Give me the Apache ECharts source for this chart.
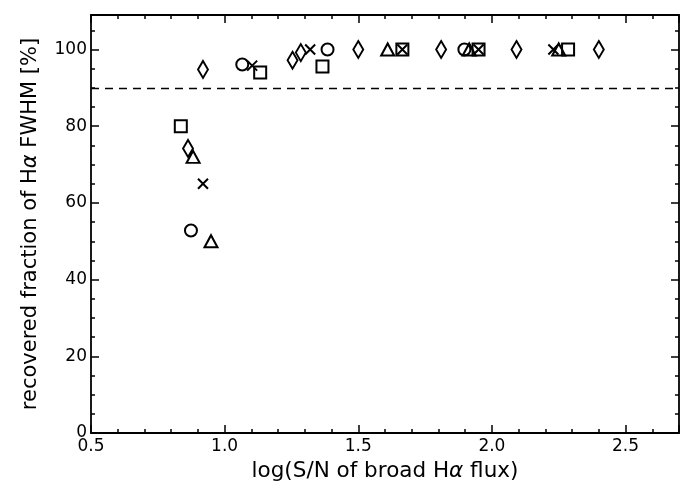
<!DOCTYPE html>
<html>
<head>
<meta charset="utf-8">
<script src="https://cdn.jsdelivr.net/npm/echarts@6/dist/echarts.min.js"></script>
<style>html,body{margin:0;padding:0;background:#fff}#c{width:700px;height:500px}</style>
</head>
<body>
<div id="c"></div>
<script>
const squares = [[0.836,80],[1.133,94],[1.366,95.6],[1.665,100],[1.95,100],[2.285,100]];
const diamonds = [[0.863,74.2],[0.919,94.8],[1.254,97.2],[1.285,99.2],[1.5,100],[1.81,100],[2.092,100],[2.40,100]];
const circles = [[0.874,52.8],[1.066,96.1],[1.385,100],[1.897,100]];
const triangles = [[0.882,72],[0.949,50],[1.61,100],[1.915,100],[2.25,100]];
const crosses = [[0.919,65],[1.103,95.8],[1.32,100],[1.665,100],[1.95,100],[2.23,100]];
const thresholdY = 90;
const xTitle = 'log(S/N of broad H{a|α} flux)';
const yTitle = 'recovered fraction of H{a|α} FWHM [%]';

const FONT = 'DejaVu Sans';
const chart = echarts.init(document.getElementById('c'), null, {renderer: 'canvas'});
const lineStyle = {color: '#000', width: 1.8};
const tickStyle = {color: '#000', width: 1.5};
const mk = (name, data, symbol, size) => ({
  name, type: 'scatter', data, symbol, symbolSize: size,
  itemStyle: {color: 'rgba(0,0,0,0)', borderColor: '#000', borderWidth: 2, opacity: 1},
  z: 3
});
const baseX = {
  type: 'value', min: 0.5, max: 2.7, interval: 0.5,
  axisLine: {show: true, onZero: false, lineStyle},
  axisTick: {show: true, inside: true, length: 8, lineStyle: tickStyle},
  minorTick: {show: true, splitNumber: 5, length: 4, lineStyle: tickStyle},
  splitLine: {show: false}
};
const baseY = {
  type: 'value', min: 0, max: 109, interval: 20,
  axisLine: {show: true, onZero: false, lineStyle},
  axisTick: {show: true, inside: true, length: 8, lineStyle: tickStyle},
  minorTick: {show: true, splitNumber: 4, length: 4, lineStyle: tickStyle},
  splitLine: {show: false}
};
const titleStyle = size => ({fontFamily: FONT, fontSize: size, color: '#000',
  rich: {a: {fontFamily: FONT, fontStyle: 'italic', fontSize: size, color: '#000'}}});
chart.setOption({
  animation: false,
  backgroundColor: '#fff',
  grid: {left: 91, right: 21, top: 15, bottom: 67},
  xAxis: [
    Object.assign({}, baseX, {
      position: 'bottom',
      name: xTitle, nameLocation: 'middle', nameGap: 27,
      nameTextStyle: titleStyle(21.5),
      axisLabel: {fontFamily: FONT, fontSize: 17, color: '#000', margin: 5, showMaxLabel: false,
        formatter: v => v.toFixed(1)}
    }),
    Object.assign({}, baseX, {position: 'top', axisLabel: {show: false}})
  ],
  yAxis: [
    Object.assign({}, baseY, {
      position: 'left',
      name: yTitle, nameLocation: 'middle', nameGap: 50,
      nameTextStyle: titleStyle(21),
      axisLabel: {fontFamily: FONT, fontSize: 17, color: '#000', margin: 4, showMaxLabel: false}
    }),
    Object.assign({}, baseY, {position: 'right', axisLabel: {show: false}})
  ],
  series: [
    Object.assign(mk('squares', squares, 'rect', 12), {
      markLine: {
        silent: true, symbol: ['none', 'none'], label: {show: false},
        lineStyle: {color: '#000', type: [8, 6], width: 1.3},
        data: [{yAxis: thresholdY}]
      }
    }),
    mk('diamonds', diamonds, 'diamond', [10, 17]),
    mk('circles', circles, 'circle', 12),
    mk('triangles', triangles, 'triangle', [13, 12]),
    mk('crosses', crosses, 'path://M0,0L10,10M10,0L0,10', 10)
  ]
});
</script>
</body>
</html>
